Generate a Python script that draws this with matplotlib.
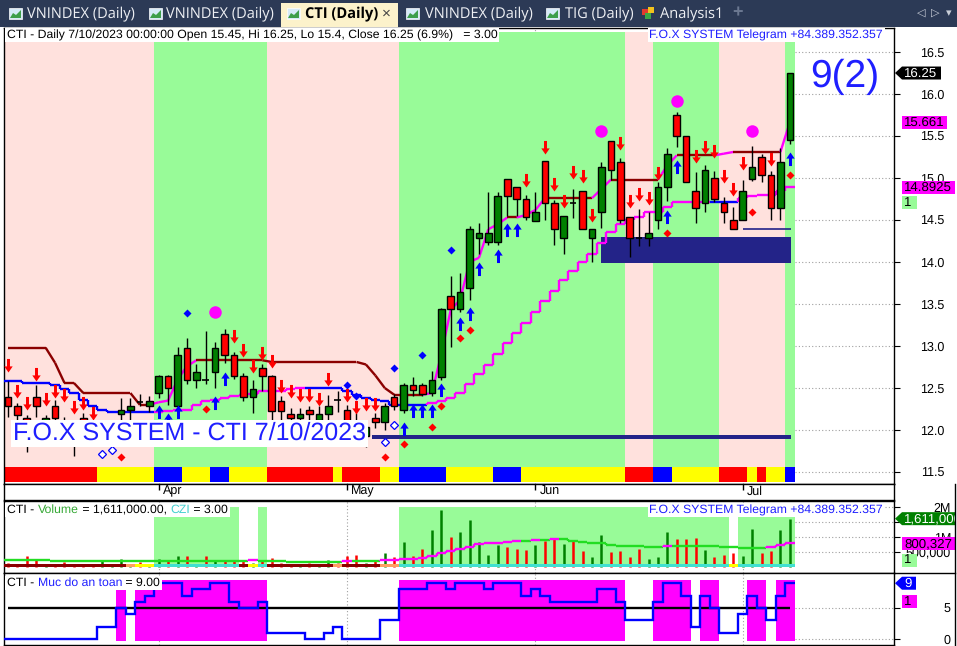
import numpy as np
import matplotlib.pyplot as plt
from matplotlib.path import Path
from matplotlib.patches import Rectangle, Polygon
from matplotlib.collections import LineCollection

plt.rcParams['font.family'] = ['Liberation Sans', 'DejaVu Sans']
plt.rcParams['text.hinting'] = 'no_hinting'

# ---- values: 84 daily bars, 9 Mar .. 10 Jul 2023 ----
opens = [12.39, 12.28, 12.14, 12.39, 11.98, 12.28, 12.10, 12.02, 12.14, 12.04,
         11.95, 11.98, 12.19, 12.24, 12.34, 12.29, 12.44, 12.64, 12.29, 12.98,
         12.60, 12.61, 12.69, 13.14, 12.89, 12.64, 12.39, 12.74, 12.64, 12.35,
         12.19, 12.14, 12.24, 12.12, 12.19, 12.37, 12.24, 12.10, 11.93, 12.14,
         12.10, 12.39, 12.24, 12.53, 12.53, 12.44, 12.63, 13.60, 13.44, 13.69,
         14.29, 14.24, 14.24, 14.99, 14.89, 14.75, 14.49, 15.20, 14.70, 14.29,
         14.71, 14.85, 14.29, 14.59, 15.44, 15.19, 14.54, 14.30, 14.29, 14.50,
         14.89, 15.75, 15.50, 14.85, 14.70, 15.00, 14.70, 14.50, 14.50, 14.99,
         15.25, 15.04, 14.64, 15.45]
highs = [12.58, 12.32, 12.18, 12.53, 12.18, 12.36, 12.16, 12.10, 12.20, 12.08,
         12.06, 12.04, 12.38, 12.38, 12.43, 12.40, 12.66, 12.66, 12.99, 13.10,
         12.79, 13.18, 13.05, 13.20, 12.93, 12.68, 12.59, 12.78, 12.66, 12.40,
         12.26, 12.26, 12.28, 12.28, 12.42, 12.47, 12.30, 12.20, 12.10, 12.20,
         12.32, 12.43, 12.56, 12.63, 12.56, 12.70, 13.45, 13.83, 13.87, 14.43,
         14.47, 14.83, 14.83, 14.99, 14.89, 14.80, 14.83, 15.20, 14.74, 14.55,
         14.87, 14.85, 14.39, 15.19, 15.44, 15.24, 14.54, 14.63, 14.60, 14.95,
         15.36, 15.79, 15.50, 15.07, 15.15, 15.08, 14.77, 14.65, 14.98, 15.38,
         15.28, 15.08, 15.36, 16.25]
lows = [12.15, 12.08, 11.74, 12.16, 11.90, 12.05, 11.90, 11.69, 11.92, 11.90,
        11.88, 11.88, 12.10, 12.12, 12.28, 12.22, 12.38, 12.30, 12.25, 12.55,
        12.50, 12.55, 12.50, 12.80, 12.61, 12.35, 12.20, 12.47, 12.12, 12.12,
        12.05, 12.05, 12.10, 12.05, 12.10, 12.21, 11.98, 11.90, 11.80, 12.02,
        12.00, 12.24, 12.20, 12.40, 12.40, 12.40, 12.60, 12.99, 13.40, 13.55,
        14.10, 14.20, 14.20, 14.55, 14.55, 14.50, 14.49, 14.50, 14.20, 14.10,
        14.52, 14.39, 14.00, 14.40, 14.98, 14.46, 14.06, 14.19, 14.19, 14.39,
        14.73, 15.37, 14.95, 14.47, 14.60, 14.72, 14.46, 14.39, 14.50, 14.97,
        14.95, 14.50, 14.50, 15.40]
closes = [12.28, 12.18, 11.95, 12.28, 12.14, 12.14, 11.98, 11.90, 12.00, 11.96,
          12.02, 12.00, 12.24, 12.29, 12.33, 12.35, 12.64, 12.50, 12.89, 12.59,
          12.69, 12.60, 12.98, 12.89, 12.64, 12.39, 12.49, 12.64, 12.23, 12.23,
          12.14, 12.19, 12.19, 12.19, 12.29, 12.36, 12.05, 11.98, 12.04, 12.09,
          12.29, 12.29, 12.53, 12.48, 12.43, 12.60, 13.44, 13.44, 13.64, 14.39,
          14.34, 14.34, 14.79, 14.79, 14.75, 14.54, 14.59, 14.70, 14.39, 14.55,
          14.70, 14.39, 14.39, 15.13, 15.10, 14.50, 14.29, 14.29, 14.34, 14.89,
          15.29, 15.50, 14.95, 14.64, 15.10, 14.75, 14.59, 14.39, 14.85, 15.13,
          15.04, 14.64, 15.19, 16.25]
volume_m = [0.13, 0.10, 0.37, 0.23, 0.08, 0.10, 0.17, 0.08, 0.10, 0.08,
            0.20, 0.08, 0.27, 0.10, 0.17, 0.10, 0.27, 0.23, 0.37, 0.37,
            0.10, 0.37, 0.23, 0.20, 0.23, 0.23, 0.12, 0.23, 0.30, 0.12,
            0.10, 0.10, 0.12, 0.08, 0.23, 0.13, 0.37, 0.40, 0.12, 0.25,
            0.47, 0.32, 0.84, 0.37, 0.60, 1.23, 1.90, 1.00, 1.17, 1.57,
            0.84, 0.40, 0.73, 0.68, 0.60, 0.57, 0.73, 0.87, 0.92, 0.77,
            0.87, 0.53, 0.33, 1.07, 0.50, 0.53, 0.33, 0.60, 0.27, 0.33,
            1.17, 0.93, 0.93, 0.96, 0.57, 0.34, 0.40, 0.47, 0.37, 1.27,
            0.47, 0.53, 1.23, 1.611]
vol_avg_m = [0.25, 0.25, 0.25, 0.25, 0.25, 0.20, 0.20, 0.20, 0.20, 0.20,
             0.20, 0.20, 0.20, 0.20, 0.19, 0.19, 0.19, 0.19, 0.19, 0.19,
             0.19, 0.19, 0.19, 0.19, 0.19, 0.19, 0.22, 0.20, 0.20, 0.20,
             0.18, 0.18, 0.18, 0.18, 0.18, 0.18, 0.20, 0.20, 0.20, 0.20,
             0.22, 0.24, 0.26, 0.27, 0.30, 0.37, 0.48, 0.55, 0.60, 0.67,
             0.76, 0.79, 0.81, 0.84, 0.87, 0.87, 0.91, 0.91, 0.94, 0.93,
             0.87, 0.82, 0.79, 0.79, 0.74, 0.71, 0.71, 0.71, 0.68, 0.68,
             0.71, 0.71, 0.71, 0.71, 0.71, 0.69, 0.68, 0.66, 0.63, 0.63,
             0.63, 0.68, 0.74, 0.80]
# upper trailing line and lower support line
line_a = [12.98, 12.98, 12.98, 12.98, 12.98, 12.80, 12.56, 12.56, 12.44, 12.44,
          12.44, 12.44, 12.44, 12.44, 12.30, 12.30, 12.33, 12.35, 12.60, 12.76,
          12.83, 12.83, 12.83, 12.83, 12.83, 12.83, 12.83, 12.83, 12.81, 12.81,
          12.81, 12.81, 12.81, 12.81, 12.81, 12.81, 12.81, 12.81, 12.78, 12.65,
          12.50, 12.42, 12.42, 12.42, 12.42, 12.44, 12.90, 13.43, 13.55, 14.00,
          14.05, 14.39, 14.45, 14.53, 14.53, 14.56, 14.62, 14.76, 14.76, 14.76,
          14.76, 14.76, 14.76, 14.87, 14.98, 14.98, 14.98, 14.98, 14.98, 14.98,
          15.15, 15.27, 15.27, 15.27, 15.27, 15.27, 15.29, 15.31, 15.31, 15.31,
          15.31, 15.31, 15.31, 15.661]
line_b = [12.58, 12.58, 12.56, 12.56, 12.56, 12.54, 12.49, 12.44, 12.36, 12.29,
          12.24, 12.21, 12.21, 12.21, 12.21, 12.21, 12.21, 12.23, 12.24, 12.24,
          12.30, 12.34, 12.36, 12.38, 12.40, 12.42, 12.43, 12.46, 12.46, 12.47,
          12.49, 12.50, 12.50, 12.50, 12.50, 12.50, 12.46, 12.42, 12.38, 12.36,
          12.34, 12.30, 12.30, 12.30, 12.30, 12.32, 12.34, 12.38, 12.44, 12.55,
          12.67, 12.77, 12.90, 13.03, 13.16, 13.27, 13.40, 13.53, 13.65, 13.78,
          13.89, 14.00, 14.10, 14.23, 14.36, 14.45, 14.50, 14.53, 14.59, 14.59,
          14.65, 14.71, 14.71, 14.71, 14.71, 14.72, 14.72, 14.72, 14.76, 14.78,
          14.80, 14.80, 14.84, 14.8925]
line_b_up = [0] * 16 + [1] * 16 + [0] * 13 + [1] * 30 + [0] * 3 + [1] * 6
muc_do_an_toan = [0, 0, 0, 0, 0, 0, 0, 0, 0, 0, 2, 2, 5, 4, 6, 7, 9, 9, 9, 7,
                  8, 8, 9, 9, 6, 5, 5, 6, 1, 1, 1, 1, 0, 0, 1, 2, 0, 0, 0, 0,
                  3, 3, 8, 8, 8, 9, 9, 8, 9, 9, 9, 8, 9, 9, 9, 7, 8, 7, 6, 6,
                  6, 6, 6, 8, 8, 6, 3, 3, 3, 6, 9, 9, 7, 2, 7, 5, 1, 1, 4, 7,
                  5, 3, 7, 9]
trend_green = [0] * 16 + [1] * 12 + [0] * 14 + [1] * 24 + [0] * 3 + [1] * 7 + [0] * 7 + [1]
vol_green = [0] * 16 + [1] * 9 + [0] * 2 + [1] + [0] * 14 + [1] * 35 + [0] + [1] * 6
strip_main = (['r'] * 10 + ['y'] * 6 + ['b'] * 3 + ['y'] * 3 + ['b'] * 2 + ['y'] * 4
              + ['r'] * 7 + ['y'] + ['r'] * 4 + ['y'] * 2 + ['b'] * 5 + ['y'] * 5
              + ['b'] * 3 + ['y'] * 11 + ['r'] * 3 + ['b'] * 2 + ['y'] * 5
              + ['r'] * 3 + ['y'] + ['r'] + ['y'] * 2 + ['b'])
strip_vol = (['d'] * 13 + ['o'] + ['y'] * 2 + ['c'] * 9 + ['d'] + ['y'] + ['c']
             + ['d'] * 7 + ['o'] + ['d'] * 4 + ['o'] * 2 + ['c'] * 35 + ['y'] + ['c'] * 6)

sell_bars = [0, 1, 2, 3, 4, 5, 6, 7, 8, 9, 24, 25, 26, 27, 28, 29, 30, 31, 32, 33,
             34, 36, 37, 38, 39, 55, 57, 58, 59, 60, 61, 62, 65, 66, 67, 68, 69,
             73, 74, 75, 76, 77, 78, 81]
sell_tips = [12.69, 12.38, 12.24, 12.58, 12.29, 12.38, 12.33, 12.19, 12.24, 12.12,
             13.03, 12.87, 12.68, 12.83, 12.74, 12.44, 12.38, 12.33, 12.33, 12.28,
             12.52, 12.33, 12.19, 12.23, 12.23, 14.89, 15.29, 14.84, 14.64, 14.99,
             14.94, 14.48, 15.33, 14.64, 14.73, 14.68, 14.98, 15.18, 15.29, 15.24,
             14.94, 14.79, 15.10, 15.14]
buy_bars = [16, 17, 18, 22, 23, 42, 43, 44, 45, 46, 48, 49, 50, 52, 53, 54, 70, 71, 83]
buy_tips = [12.30, 12.20, 12.30, 12.40, 12.69, 12.10, 12.31, 12.31, 12.31, 12.56,
            13.35, 13.46, 14.00, 14.16, 14.46, 14.46, 14.62, 15.21, 15.31]
peak_bars = [22, 63, 71, 79]
peak_vals = [13.40, 15.56, 15.92, 15.56]
bluedot_bars = [19, 36, 37, 41, 44, 47]
bluedot_vals = [13.39, 12.54, 12.40, 12.74, 12.89, 14.14]
hollow_bars = [10, 11, 40, 41]
hollow_vals = [11.71, 11.76, 11.86, 12.06]
reddot_bars = [12, 21, 40, 42, 45, 46, 48, 49, 70, 79, 83]
reddot_vals = [11.68, 12.25, 11.68, 11.83, 12.04, 12.29, 13.09, 13.19, 14.35, 14.60, 15.04]
month_bars = [16, 36, 56, 78]
month_names = ['Apr', 'May', 'Jun', 'Jul']

n = len(closes)
x = np.arange(n)
o, h, l, c = map(np.array, (opens, highs, lows, closes))
vol = np.array(volume_m) * 1e6
vavg = np.array(vol_avg_m) * 1e6
muc = np.array(muc_do_an_toan)

W, H = 957, 646
fig = plt.figure(figsize=(W / 100, H / 100), dpi=100)
renderer = fig.canvas.get_renderer()


def box(x0, y0, x1, y1):
    return [x0 / W, 1 - y1 / H, (x1 - x0) / W, (y1 - y0) / H]


def px2ax(px):
    return (px - 4) / 890


XL = (-0.42, 94.06)
PINK, PALE = '#ffe1dd', '#98fb98'
MAG, NAVY = '#ff00ff', '#232388'
FOX = '#1f1fff'
DOT = (0, (1, 2))

ax_tab = fig.add_axes(box(0, 0, W, 27))
ax = fig.add_axes(box(4, 28, 894, 484))
ax_date = fig.add_axes(box(4, 484, 894, 500))
ax_vol = fig.add_axes(box(4, 501, 894, 573))
ax_muc = fig.add_axes(box(4, 573, 894, 645))

# ---------------- tab strip ----------------
ax_tab.set_xlim(0, W)
ax_tab.set_ylim(27, 0)
ax_tab.axis('off')
ax_tab.add_patch(Rectangle((0, 0), W, 27, fc='#2c3a56', ec='none'))
ax_tab.add_patch(Rectangle((281, 3), 117, 24, fc='#fcf2cb', ec='none'))
for ix, tx, name in [(9, 27, 'VNINDEX (Daily)'), (149, 166, 'VNINDEX (Daily)'),
                     (287, 305, 'CTI (Daily)'), (406, 425, 'VNINDEX (Daily)'),
                     (546, 565, 'TIG (Daily)')]:
    ax_tab.add_patch(Rectangle((ix, 8), 13, 11, fc='#d6eaf8', ec='white', lw=0.5))
    ax_tab.add_patch(Polygon([(ix + 1, 18), (ix + 4, 13), (ix + 7, 15), (ix + 12, 10), (ix + 12, 18)],
                             fc='#3e9e4a', ec='none'))
    active = name.startswith('CTI')
    ax_tab.text(tx, 14, name, color='black' if active else '#eef0f4', fontsize=10.5,
                fontweight='bold' if active else 'normal', family='Open Sans',
                va='center', ha='left')
ax_tab.text(386, 14, '\u00d7', color='#444444', fontsize=11, va='center', ha='center')
for cx, cy, col in [(645, 12, '#e23b2e'), (651, 10, '#f2c31c'), (648, 16, '#3aa845')]:
    ax_tab.add_patch(Rectangle((cx - 3, cy - 3), 6, 6, fc=col, ec='none'))
ax_tab.text(660, 14, 'Analysis1', color='#eef0f4', fontsize=10.5, family='Open Sans',
            va='center', ha='left')
ax_tab.text(738, 13, '+', color='#6b7891', fontsize=13, va='center', ha='center', fontweight='bold')
for tx, ch in [(921, '\u25c1'), (935, '\u25b7'), (949, '\u25be')]:
    ax_tab.text(tx, 13, ch, color='#c9ced8', fontsize=8, va='center', ha='center',
                family='DejaVu Sans')

# ---------------- price panel ----------------
ax.set_xlim(XL)
ax.set_ylim(11.357, 16.786)
ax.vlines(month_bars, 11.357, 16.786, colors='#a0a0a0', linestyles=DOT, lw=0.8, zorder=0)
ax.bar(x, 16.74 - 11.56, bottom=11.56, width=1.0,
       color=[PALE if g else PINK for g in trend_green], lw=0, zorder=1)
smap = {'r': '#ff0000', 'y': '#ffff00', 'b': '#0000ff'}
ax.bar(x, 11.56 - 11.38, bottom=11.38, width=1.0, color=[smap[s] for s in strip_main],
       lw=0, zorder=1)
ax.hlines(np.arange(11.5, 16.6, 0.5), 83.6, XL[1], colors='#a0a0a0', linestyles=DOT,
          lw=0.8, zorder=1)

# support zones
ax.add_patch(Rectangle((62.95, 13.99), 83.1 - 62.95, 0.31, fc=NAVY, ec='none', zorder=2))
ax.hlines(14.39, 78, 83.1, colors=NAVY, lw=1.2, zorder=2)
ax.add_patch(Rectangle((38.6, 11.89), 83.1 - 38.6, 0.055, fc=NAVY, ec='none', zorder=2))

# trailing lines
a = np.array(line_a)
segs_a = [[(i - 1, a[i - 1]), (i, a[i])] for i in range(1, n)]
cols_a = [MAG if a[i] > a[i - 1] else '#8b0000' for i in range(1, n)]
ax.add_collection(LineCollection(segs_a, colors=cols_a, lw=1.7, zorder=3))
b = np.array(line_b)
segs_b, cols_b = [], []
for i in range(n):
    col = MAG if line_b_up[i] else '#0000ff'
    segs_b.append([(i - 0.5, b[i]), (i + 0.5, b[i])])
    cols_b.append(col)
    if i > 0:
        segs_b.append([(i - 0.5, b[i - 1]), (i - 0.5, b[i])])
        cols_b.append(col)
ax.add_collection(LineCollection(segs_b, colors=cols_b, lw=1.7, zorder=3))

# candles
ax.vlines(x, l, h, colors='black', lw=1, zorder=4)
for i in range(n):
    if abs(c[i] - o[i]) < 0.015:
        ax.hlines(c[i], i - 0.35, i + 0.35, colors='black', lw=1.2, zorder=5)
    else:
        col = '#008000' if c[i] > o[i] else '#ff0000'
        ax.add_patch(Rectangle((i - 0.35, min(o[i], c[i])), 0.7, abs(c[i] - o[i]),
                               fc=col, ec='black', lw=1, zorder=5))

# signals
up_path = Path([(0, 0), (0.62, -0.9), (0.22, -0.9), (0.22, -2), (-0.22, -2),
                (-0.22, -0.9), (-0.62, -0.9), (0, 0)], closed=True)
down_path = Path([(px, -py) for px, py in up_path.vertices], closed=True)
ax.plot(sell_bars, sell_tips, ls='none', marker=down_path, ms=19.5, mfc='#ff0000',
        mec='none', zorder=6)
ax.plot(buy_bars, buy_tips, ls='none', marker=up_path, ms=19.5, mfc='#0000ff',
        mec='none', zorder=6)
ax.plot(peak_bars, peak_vals, ls='none', marker='o', ms=9, mfc=MAG, mec='none', zorder=6)
ax.plot(bluedot_bars, bluedot_vals, ls='none', marker='D', ms=4, mfc='#0000ff', mec='none', zorder=6)
ax.plot(reddot_bars, reddot_vals, ls='none', marker='D', ms=4, mfc='#ff0000', mec='none', zorder=6)
ax.plot(hollow_bars, hollow_vals, ls='none', marker='D', ms=4.5, mfc='white', mec='#0000ff',
        mew=0.9, zorder=6)

ax.text(px2ax(13), 1 - (433.5 - 28) / 456, 'F.O.X SYSTEM - CTI 7/10/2023', transform=ax.transAxes,
        fontsize=18, color=FOX, va='center', ha='left', zorder=20,
        bbox=dict(fc='white', ec='none', pad=1.5))
ax.text(88.85, 16.2, '9(2)', fontsize=28, color=FOX, ha='center', va='center', zorder=20)
ax.text(px2ax(7), 1 - 7 / 456, 'CTI - Daily 7/10/2023 00:00:00 Open 15.45, Hi 16.25, Lo 15.4, '
        'Close 16.25 (6.9%)   = 3.00', transform=ax.transAxes, fontsize=8.8, va='center',
        ha='left', zorder=20, bbox=dict(fc='white', ec='none', pad=1.2))
ax.text(px2ax(883), 1 - 7 / 456, 'F.O.X SYSTEM Telegram +84.389.352.357', transform=ax.transAxes,
        fontsize=8.8, color=FOX, va='center', ha='right', zorder=20,
        bbox=dict(fc='white', ec='none', pad=1.2))

ax.set_xticks([])
ax.yaxis.tick_right()
ax.set_yticks(np.arange(11.5, 16.6, 0.5))
ax.set_yticklabels([f'{v:.1f}' for v in np.arange(11.5, 16.6, 0.5)])
ax.tick_params(axis='y', direction='out', length=4, pad=32, labelsize=9)
for lab in ax.get_yticklabels():
    lab.set_horizontalalignment('right')


def tag(axis, yv, txt, fc, tc, x0, x1, upp, arrow=False):
    hh = 6.5 * upp
    a0, a1 = px2ax(x0), px2ax(x1)
    if arrow:
        ab = px2ax(x0 + 7)
        verts = [(a0, yv), (ab, yv + hh), (a1, yv + hh), (a1, yv - hh), (ab, yv - hh)]
        tx = px2ax(x0 + 9)
    else:
        verts = [(a0, yv + hh), (a1, yv + hh), (a1, yv - hh), (a0, yv - hh)]
        tx = px2ax(x0 + 2)
    tr = axis.get_yaxis_transform()
    axis.add_patch(Polygon(verts, closed=True, transform=tr, fc=fc, ec='none',
                           clip_on=False, zorder=10))
    axis.text(tx, yv, txt, transform=tr, color=tc, fontsize=9.5, va='center', ha='left',
              clip_on=False, zorder=11)


def color_title(axis, parts, ypx, panel_top, panel_h, fs=8.8):
    # words in several colours on one line, laid out left to right
    yf = 1 - (ypx - panel_top) / panel_h
    xpos = px2ax(7)
    start = xpos
    inv = axis.transAxes.inverted()
    for s, col in parts:
        t = axis.text(xpos, yf, s, transform=axis.transAxes, color=col, fontsize=fs,
                      va='center', ha='left', zorder=21)
        bb = t.get_window_extent(renderer)
        xpos = inv.transform((bb.x1, bb.y0))[0]
    axis.add_patch(Rectangle((start - 2 / 890, yf - 7 / panel_h), xpos - start + 4 / 890,
                             14 / panel_h, transform=axis.transAxes, fc='white', ec='none',
                             zorder=20))


tag(ax, closes[-1], '16.25', 'black', 'white', 895, 941, 1 / 84, arrow=True)
tag(ax, line_a[-1], '15.661', MAG, 'black', 902, 947, 1 / 84)
tag(ax, line_b[-1], '14.8925', MAG, 'black', 902, 955, 1 / 84)
tag(ax, 14.708, '1', PALE, 'black', 902, 917, 1 / 84)

# ---------------- date strip ----------------
ax_date.set_xlim(XL)
ax_date.set_ylim(1, 0)
ax_date.set_xticks([])
ax_date.set_yticks([])
ax_date.vlines(month_bars, 0, 0.35, colors='black', lw=1)
for mb, mn in zip(month_bars, month_names):
    ax_date.text(mb + 0.45, 0.45, mn, fontsize=9, va='center', ha='left')

# ---------------- volume panel ----------------
ax_vol.set_xlim(XL)
ax_vol.set_ylim(-0.2e6, 2.2e6)
ax_vol.vlines(month_bars, -0.2e6, 2.2e6, colors='#a0a0a0', linestyles=DOT, lw=0.8, zorder=0)
gmask = np.array(vol_green) == 1
ax_vol.bar(x[gmask], 2.0e6, bottom=0, width=1.0, color=PALE, lw=0, zorder=1)
ax_vol.hlines([0.5e6, 1e6, 1.5e6, 2e6], 83.6, XL[1], colors='#a0a0a0', linestyles=DOT,
              lw=0.8, zorder=1)
ax_vol.vlines(x, 0, vol, colors=['#008000' if c[i] > o[i] else '#ff0000' for i in range(n)],
              lw=1.8, zorder=2)
segs_v, cols_v = [], []
for i in range(n):
    col = MAG if i > 0 and vavg[i] > vavg[i - 1] else '#22dd22'
    segs_v.append([(i - 0.5, vavg[i]), (i + 0.5, vavg[i])])
    cols_v.append(col)
    if i > 0:
        segs_v.append([(i - 0.5, vavg[i - 1]), (i - 0.5, vavg[i])])
        cols_v.append(col)
ax_vol.add_collection(LineCollection(segs_v, colors=cols_v, lw=1.7, zorder=3))
vmap = {'d': '#8b0000', 'o': '#ffa060', 'y': '#ffff00', 'c': '#40e0d0'}
ax_vol.bar(x, 0.09e6, bottom=0, width=1.0, color=[vmap[s] for s in strip_vol], lw=0, zorder=4)

color_title(ax_vol, [('CTI - ', 'black'), ('Volume', '#35a835'), (' = 1,611,000.00, ', 'black'),
                     ('CZI', '#45d0d0'), (' = 3.00', 'black')], 509.5, 501, 72)
ax_vol.text(px2ax(883), 1 - 9 / 72, 'F.O.X SYSTEM Telegram +84.389.352.357', transform=ax_vol.transAxes,
            fontsize=8.8, color=FOX, va='center', ha='right', zorder=20,
            bbox=dict(fc='white', ec='none', pad=1))
ax_vol.set_xticks([])
ax_vol.yaxis.tick_right()
ax_vol.set_yticks([0.5e6, 1e6, 1.5e6, 2e6])
ax_vol.set_yticklabels(['500,000', '1M', '', '2M'])
ax_vol.tick_params(axis='y', direction='out', length=4, pad=37, labelsize=9)
for lab in ax_vol.get_yticklabels():
    lab.set_horizontalalignment('right')
tag(ax_vol, vol[-1], '1,611,000', '#008000', 'white', 895, 955, 1e6 / 30, arrow=True)
tag(ax_vol, 0.77e6, '800,327', MAG, 'black', 902, 955, 1e6 / 30)
tag(ax_vol, 0.23e6, '1', PALE, 'black', 902, 917, 1e6 / 30)

# ---------------- safety level panel ----------------
ax_muc.set_xlim(XL)
ax_muc.set_ylim(-0.97, 10.65)
ax_muc.vlines(month_bars, -0.97, 10.65, colors='#a0a0a0', linestyles=DOT, lw=0.8, zorder=0)
mmask = muc >= 5
ax_muc.bar(x[mmask], 9.8, bottom=-0.3, width=1.0, color=MAG, lw=0, zorder=1)
ax_muc.hlines([0, 5], 83.6, XL[1], colors='#a0a0a0', linestyles=DOT, lw=0.8, zorder=1)
ax_muc.hlines(5, 0, n - 1, colors='black', lw=1.7, zorder=2)
ax_muc.stairs(muc, np.arange(n + 1) - 0.5, baseline=None, color='#0000ff', lw=1.7, zorder=3)
color_title(ax_muc, [('CTI - ', 'black'), ('Muc do an toan', '#2020ff'), (' = 9.00', 'black')],
            583, 573, 72)
ax_muc.set_xticks([])
ax_muc.yaxis.tick_right()
ax_muc.set_yticks([0, 5])
ax_muc.tick_params(axis='y', direction='out', length=4, pad=37, labelsize=9)
for lab in ax_muc.get_yticklabels():
    lab.set_horizontalalignment('right')
tag(ax_muc, 9, '9', '#0000ff', 'white', 895, 916, 1 / 6.2, arrow=True)
tag(ax_muc, 6.05, '1', MAG, 'black', 902, 917, 1 / 6.2)

for axis in (ax, ax_date, ax_vol, ax_muc):
    for sp in axis.spines.values():
        sp.set_color('black')
        sp.set_linewidth(1)

fig.add_artist(plt.Line2D([955 / W, 955 / W], [0, 1 - 484 / H], color='black', lw=1))
fig.add_artist(plt.Line2D([894 / W, 955 / W], [1 - 573 / H, 1 - 573 / H], color='black', lw=1))

fig.savefig('out.png', dpi=100)
